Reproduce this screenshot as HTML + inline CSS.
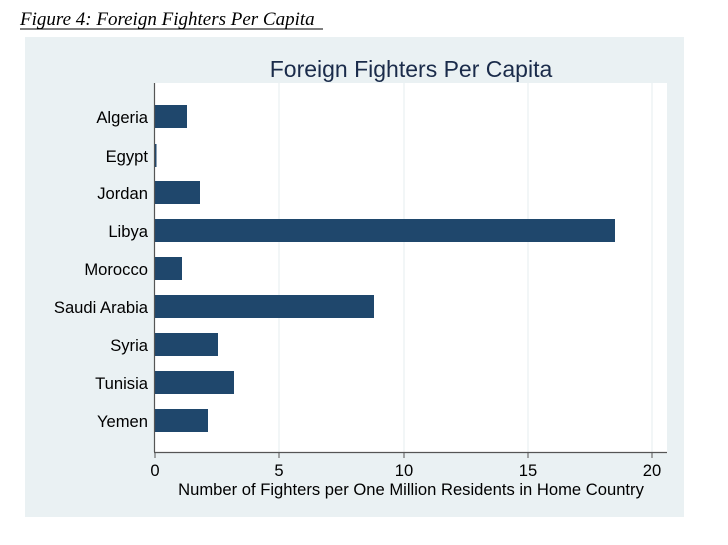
<!DOCTYPE html>
<html><head><style>
body{margin:0;background:#fff;width:728px;height:540px;overflow:hidden}
</style></head><body>
<svg width="728" height="540" xmlns="http://www.w3.org/2000/svg" font-family="Liberation Sans, sans-serif">
<text x="20" y="25" font-family="Liberation Serif, serif" font-style="italic" font-size="19" fill="#000">Figure 4: Foreign Fighters Per Capita</text>
<line x1="20" y1="29" x2="323" y2="29" stroke="#000" stroke-width="1"/>
<rect x="25" y="37" width="659" height="480" fill="#eaf1f3"/>
<rect x="155" y="83" width="512" height="369" fill="#fff"/>
<text x="411" y="77" text-anchor="middle" font-size="23" fill="#1a2b4a">Foreign Fighters Per Capita</text>
<g stroke="#e4ecef" stroke-width="1">
<line x1="279" y1="83" x2="279" y2="452"/><line x1="404" y1="83" x2="404" y2="452"/>
<line x1="528" y1="83" x2="528" y2="452"/><line x1="652" y1="83" x2="652" y2="452"/>
</g>
<g fill="#1f476c">
<rect x="155" y="105" width="32" height="23"/>
<rect x="155" y="144" width="1.5" height="23"/>
<rect x="155" y="181" width="45" height="23"/>
<rect x="155" y="219" width="460" height="23"/>
<rect x="155" y="257" width="27" height="23"/>
<rect x="155" y="295" width="219" height="23"/>
<rect x="155" y="333" width="63" height="23"/>
<rect x="155" y="371" width="79" height="23"/>
<rect x="155" y="409" width="53" height="23"/>
</g>
<line x1="154.5" y1="83" x2="154.5" y2="452" stroke="#555" stroke-width="1.2"/>
<line x1="154" y1="452.5" x2="667" y2="452.5" stroke="#555" stroke-width="1.2"/>
<g stroke="#555" stroke-width="1">
<line x1="155" y1="452" x2="155" y2="458"/><line x1="279" y1="452" x2="279" y2="458"/>
<line x1="404" y1="452" x2="404" y2="458"/><line x1="528" y1="452" x2="528" y2="458"/>
<line x1="652" y1="452" x2="652" y2="458"/>
</g>
<g font-size="16.6" fill="#000" text-anchor="end">
<text x="148" y="123">Algeria</text>
<text x="148" y="162">Egypt</text>
<text x="148" y="199">Jordan</text>
<text x="148" y="237">Libya</text>
<text x="148" y="275">Morocco</text>
<text x="148" y="313">Saudi Arabia</text>
<text x="148" y="351">Syria</text>
<text x="148" y="389">Tunisia</text>
<text x="148" y="427">Yemen</text>
</g>
<g font-size="16.6" fill="#000" text-anchor="middle">
<text x="155" y="476">0</text><text x="279" y="476">5</text><text x="404" y="476">10</text>
<text x="528" y="476">15</text><text x="652" y="476">20</text>
<text x="411" y="495">Number of Fighters per One Million Residents in Home Country</text>
</g>
</svg>
</body></html>
